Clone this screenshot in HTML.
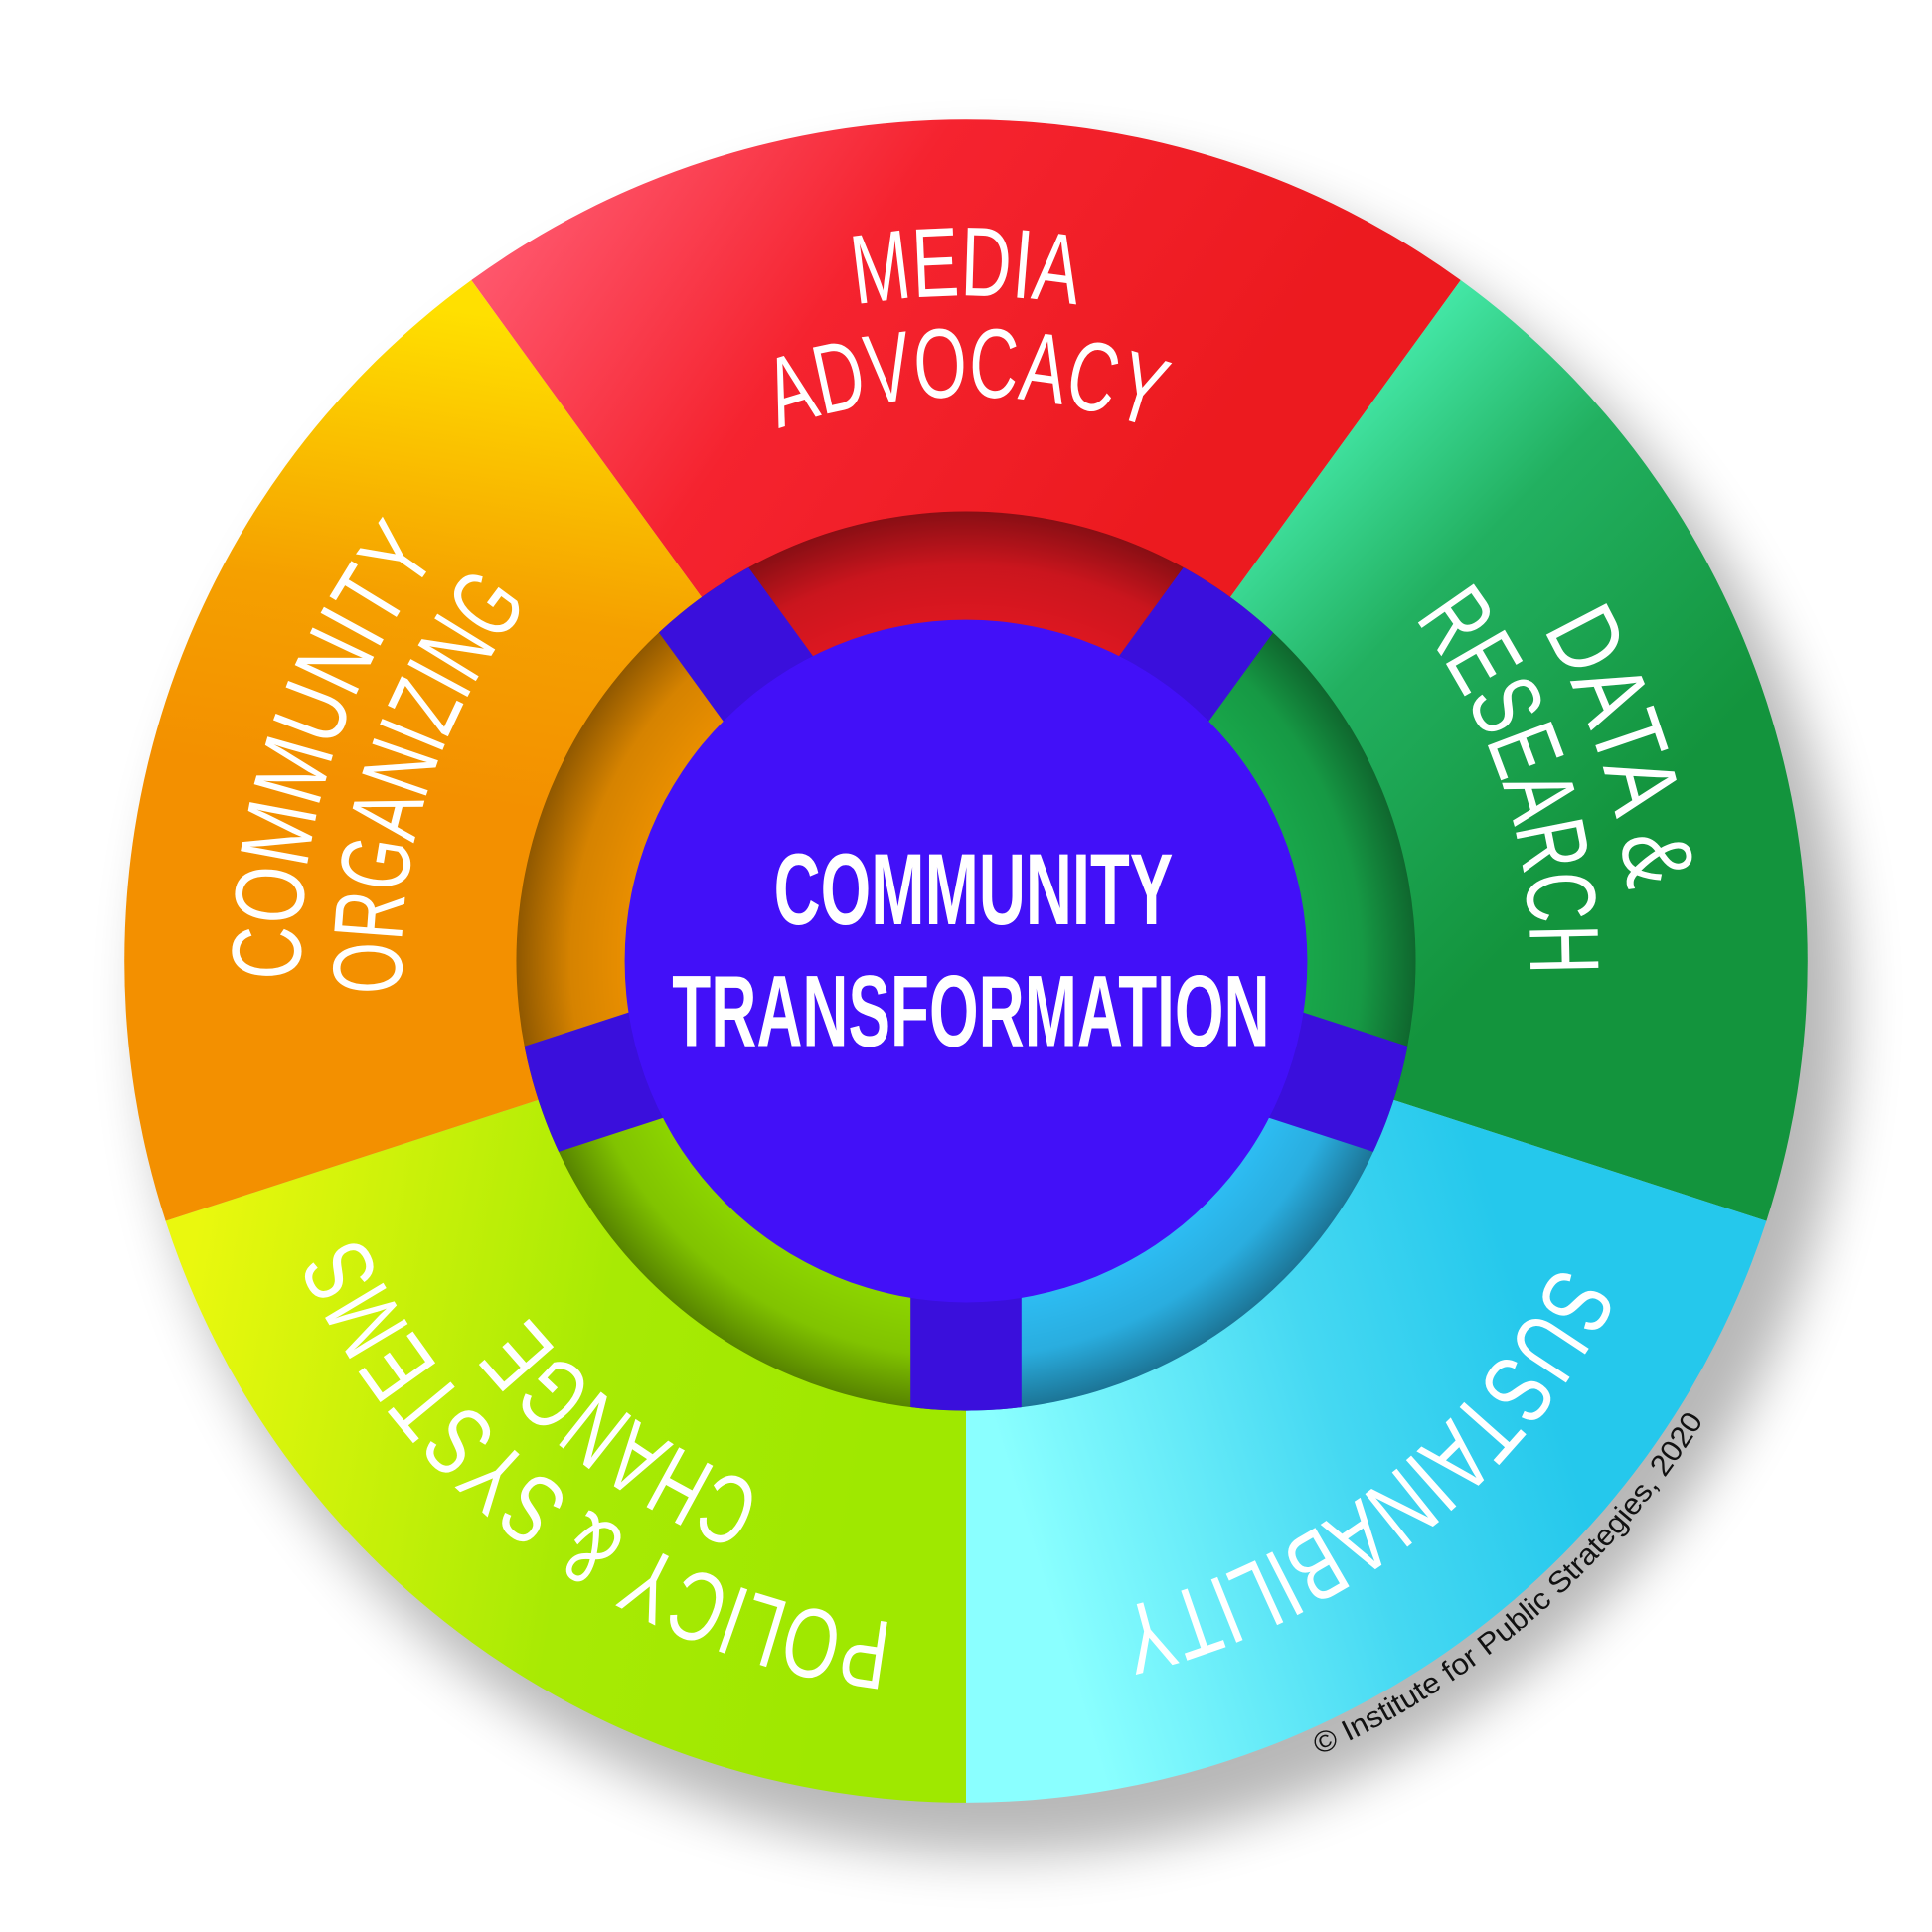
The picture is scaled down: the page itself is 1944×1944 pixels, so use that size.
<!DOCTYPE html>
<html><head><meta charset="utf-8"><style>html,body{margin:0;padding:0;background:#fff}svg{display:block}</style></head>
<body>
<svg width="1944" height="1944" viewBox="0 0 1568 1568" xmlns="http://www.w3.org/2000/svg">
<defs>
<filter id="sh" x="-20%" y="-20%" width="140%" height="140%"><feGaussianBlur stdDeviation="22"/></filter>
<linearGradient id="gR" gradientUnits="userSpaceOnUse" x1="420" y1="150" x2="900" y2="480"><stop offset="0" stop-color="#ff5a70"/><stop offset="0.45" stop-color="#f5232f"/><stop offset="1" stop-color="#ec1a1f"/></linearGradient>
<linearGradient id="gG" gradientUnits="userSpaceOnUse" x1="1030" y1="330" x2="1350" y2="640"><stop offset="0" stop-color="#4cf5b8"/><stop offset="0.45" stop-color="#22b060"/><stop offset="1" stop-color="#13943d"/></linearGradient>
<linearGradient id="gC" gradientUnits="userSpaceOnUse" x1="830" y1="1230" x2="1250" y2="1100"><stop offset="0" stop-color="#8affff"/><stop offset="0.6" stop-color="#45d8f2"/><stop offset="1" stop-color="#25c8ec"/></linearGradient>
<linearGradient id="gL" gradientUnits="userSpaceOnUse" x1="140" y1="1100" x2="700" y2="1200"><stop offset="0" stop-color="#eaf80e"/><stop offset="0.6" stop-color="#a8ea04"/><stop offset="1" stop-color="#9fe800"/></linearGradient>
<linearGradient id="gO" gradientUnits="userSpaceOnUse" x1="360" y1="250" x2="300" y2="640"><stop offset="0" stop-color="#ffe000"/><stop offset="0.6" stop-color="#f5a000"/><stop offset="1" stop-color="#f39000"/></linearGradient>
<radialGradient id="band" gradientUnits="userSpaceOnUse" cx="784" cy="780" r="365"><stop offset="0.76" stop-color="#000" stop-opacity="0"/><stop offset="0.88" stop-color="#000" stop-opacity="0.08"/><stop offset="1" stop-color="#000" stop-opacity="0.38"/></radialGradient>
<clipPath id="c365"><circle cx="784" cy="780" r="365"/></clipPath>
<path id="a1" d="M244 780 A540 540 0 0 1 1324 780"/>
<path id="a2" d="M326 780 A458 458 0 0 1 1242 780"/>
<path id="cp" d="M252 1243 A703 703 0 0 0 1316 317"/>
</defs>
<circle cx="810" cy="815" r="690" fill="#000" opacity="0.28" filter="url(#sh)"/>
<path d="M784 780 L382.5 227.5 A683 683 0 0 1 1185.5 227.5Z" fill="url(#gR)"/>
<path d="M784 780 L1185.5 227.5 A683 683 0 0 1 1433.6 991Z" fill="url(#gG)"/>
<path d="M784 780 L1433.6 991 A683 683 0 0 1 784 1463Z" fill="url(#gC)"/>
<path d="M784 780 L784 1463 A683 683 0 0 1 134.4 991Z" fill="url(#gL)"/>
<path d="M784 780 L134.4 991 A683 683 0 0 1 382.5 227.5Z" fill="url(#gO)"/>
<path d="M784 780 L569.5 484.7 A365 365 0 0 1 998.5 484.7Z" fill="#dc1720"/>
<path d="M784 780 L998.5 484.7 A365 365 0 0 1 1131.2 892.8Z" fill="#18a64a"/>
<path d="M784 780 L1131.2 892.8 A365 365 0 0 1 784 1145Z" fill="#2dbcf2"/>
<path d="M784 780 L784 1145 A365 365 0 0 1 436.8 892.8Z" fill="#8cd400"/>
<path d="M784 780 L436.8 892.8 A365 365 0 0 1 569.5 484.7Z" fill="#e88e00"/>
<circle cx="784" cy="780" r="365" fill="url(#band)"/>
<g clip-path="url(#c365)" fill="#3a0fdc">
<rect x="-45" y="-370" width="90" height="370" transform="translate(784 780) rotate(-36)"/>
<rect x="-45" y="-370" width="90" height="370" transform="translate(784 780) rotate(36)"/>
<rect x="-45" y="-370" width="90" height="370" transform="translate(784 780) rotate(108)"/>
<rect x="-45" y="-370" width="90" height="370" transform="translate(784 780) rotate(180)"/>
<rect x="-45" y="-370" width="90" height="370" transform="translate(784 780) rotate(252)"/>
</g>
<circle cx="784" cy="780" r="277" fill="#4210f8"/>
<g fill="#fff" font-family="'Liberation Sans Narrow','Liberation Sans',sans-serif" font-size="80">
<g><text><textPath href="#a1" startOffset="50%" text-anchor="middle" textLength="180" lengthAdjust="spacingAndGlyphs">MEDIA</textPath></text>
<text><textPath href="#a2" startOffset="50%" text-anchor="middle" textLength="310" lengthAdjust="spacingAndGlyphs">ADVOCACY</textPath></text></g>
<g transform="rotate(72 784 780)"><text><textPath href="#a1" startOffset="50%" text-anchor="middle" textLength="225" lengthAdjust="spacingAndGlyphs">DATA &amp;</textPath></text>
<text><textPath href="#a2" startOffset="50%" text-anchor="middle" textLength="310" lengthAdjust="spacingAndGlyphs">RESEARCH</textPath></text></g>
<g transform="rotate(142 784 780)"><text><textPath href="#a1" startOffset="50%" text-anchor="middle" textLength="470" lengthAdjust="spacingAndGlyphs">SUSTAINABILITY</textPath></text></g>
<g transform="rotate(216 784 780)"><text><textPath href="#a1" startOffset="50%" text-anchor="middle" textLength="560" lengthAdjust="spacingAndGlyphs">POLICY &amp; SYSTEMS</textPath></text>
<text><textPath href="#a2" startOffset="50%" text-anchor="middle" textLength="240" lengthAdjust="spacingAndGlyphs">CHANGE</textPath></text></g>
<g transform="rotate(288 784 780)"><text><textPath href="#a1" startOffset="50%" text-anchor="middle" textLength="370" lengthAdjust="spacingAndGlyphs">COMMUNITY</textPath></text>
<text><textPath href="#a2" startOffset="50%" text-anchor="middle" textLength="340" lengthAdjust="spacingAndGlyphs">ORGANIZING</textPath></text></g>
</g>
<g fill="#fff" font-family="'Liberation Sans Narrow','Liberation Sans',sans-serif" font-weight="bold" font-size="82" text-anchor="middle">
<text x="790" y="750" textLength="324" lengthAdjust="spacingAndGlyphs">COMMUNITY</text>
<text x="788" y="849" textLength="485" lengthAdjust="spacingAndGlyphs">TRANSFORMATION</text>
</g>
<text font-family="'Liberation Sans',sans-serif" font-size="24" fill="#111"><textPath href="#cp" startOffset="50%" text-anchor="middle" textLength="420" lengthAdjust="spacingAndGlyphs">© Institute for Public Strategies, 2020</textPath></text>
</svg>
</body></html>
